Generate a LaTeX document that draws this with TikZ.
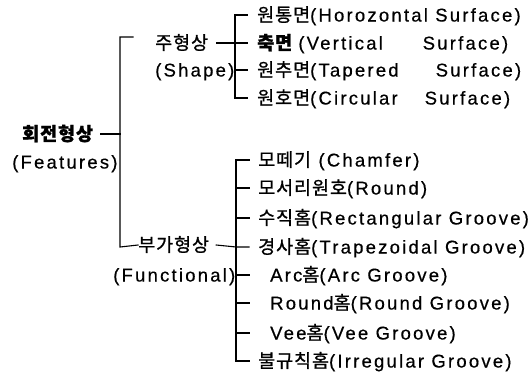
\documentclass[tikz,border=0pt]{standalone}
\usepackage{fontspec}
\setmainfont{Liberation Sans}[LetterSpace=12,FakeBold=0.5]
\newfontfamily\kr{Noto Sans CJK KR}[LetterSpace=5,FakeBold=1]
\begin{document}
\begin{tikzpicture}[x=1pt,y=-1pt,
  txt/.style={anchor=west,inner sep=0pt,text height=15pt,text depth=2pt,
    font=\fontsize{18.5}{20}\selectfont},
  ln/.style={line width=1.1pt,line cap=rect}]
\useasboundingbox (0,0) rectangle (530,375);

% root and the two groups
\node[txt] (root) at (22,134) {\kr\bfseries 회전형상};
\node[txt] (feat) at (12,162) {(Features)};
\node[txt] (shp)  at (155,43) {\kr 주형상};
\node[txt] (shpe) at (155,70) {(Shape)};
\node[txt] (fun)  at (138,245) {\kr 부가형상};
\node[txt] (fune) at (113,275) {(Functional)};

% surfaces
\node[txt] (u1) at (257,15) {{\kr 원통면}(Horozontal Surface)};
\node[txt,text width=251pt] (u2) at (257,43) {{\kr\bfseries 축면} (Vertical\hfill Surface)};
\node[txt,text width=264pt] (u3) at (257,70) {{\kr 원추면}(Tapered\hfill Surface)};
\node[txt,text width=253pt] (u4) at (257,98) {{\kr 원호면}(Circular\hfill Surface)};

% grooves and edges
\node[txt] (l1) at (258,160) {{\kr 모떼기} (Chamfer)};
\node[txt] (l2) at (258,188) {{\kr 모서리원호}(Round)};
\node[txt] (l3) at (258,218) {{\kr 수직홈}(Rectangular Groove)};
\node[txt] (l4) at (258,247) {{\kr 경사홈}(Trapezoidal Groove)};
\node[txt] (l5) at (270,275) {Arc{\kr 홈}(Arc Groove)};
\node[txt] (l6) at (270,303) {Round{\kr 홈}(Round Groove)};
\node[txt] (l7) at (270,333) {Vee{\kr 홈}(Vee Groove)};
\node[txt] (l8) at (258,361) {{\kr 불규칙홈}(Irregular Groove)};

% bracket columns
\coordinate (mx) at (120,0);
\coordinate (ux) at (235,0);
\coordinate (lx) at (236,0);
\coordinate (mt) at (120,37);
\coordinate (mb) at (120,247);

% main bracket
\draw[ln] ([xshift=7pt]root.east) -- (root.east -| mx);
\draw[ln] ([xshift=13pt]mt) -- (mt) -- (mb) -- (fun.west);

% upper bracket
\draw[ln] (u1.west -| ux) ++(12,0) -- (u1.west -| ux) -- (u4.west -| ux) -- ++(12,0);
\draw[ln] ([xshift=8pt]shp.east) -- (u2.west -| ux) -- ++(12,0);
\draw[ln] (u3.west -| ux) -- ++(12,0);

% lower bracket
\draw[ln] (l1.west -| lx) ++(13,0) -- (l1.west -| lx) -- (l8.west -| lx) -- ++(13,0);
\draw[ln] ([xshift=7pt]fun.east) -- (l4.west -| lx) -- ++(13,0);
\foreach \n in {l2,l3,l5,l6,l7}
  \draw[ln] (\n.west -| lx) -- ++(13,0);
\end{tikzpicture}
\end{document}
